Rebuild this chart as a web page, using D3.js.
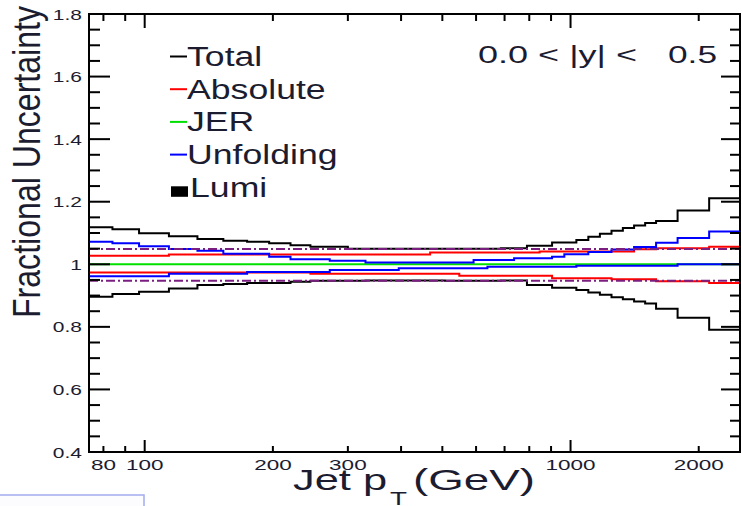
<!DOCTYPE html>
<html>
<head>
<meta charset="utf-8">
<script src="https://cdn.jsdelivr.net/npm/d3@7"></script>
<style>
body { margin: 0; background: #fff; }
svg { display: block; font-family: "Liberation Sans", Arial, sans-serif; }
</style>
</head>
<body>
<div id="chart"></div>
<script>
// jet pT bin edges (GeV)
var binEdges = [74, 84, 97, 114, 133, 153, 174, 196, 220, 245, 272, 300, 330, 362, 395, 430, 468, 507,
  548, 592, 638, 686, 737, 790, 846, 905, 967, 1032, 1101, 1172, 1248, 1327, 1410, 1497, 1588, 1784, 2116, 2500];

// one value per bin
var totalUp = [1.118, 1.112, 1.099, 1.090, 1.081, 1.075, 1.072, 1.067, 1.061, 1.056, 1.056, 1.050, 1.050,
  1.050, 1.050, 1.050, 1.050, 1.050, 1.050, 1.050, 1.050, 1.051, 1.051, 1.059, 1.059, 1.070, 1.070, 1.078,
  1.088, 1.098, 1.107, 1.116, 1.124, 1.132, 1.138, 1.172, 1.211];
var totalDown = [0.896, 0.905, 0.912, 0.923, 0.934, 0.937, 0.940, 0.940, 0.944, 0.947, 0.947, 0.947, 0.948,
  0.948, 0.948, 0.948, 0.948, 0.947, 0.947, 0.947, 0.947, 0.948, 0.948, 0.934, 0.934, 0.925, 0.925, 0.918,
  0.910, 0.903, 0.895, 0.888, 0.881, 0.875, 0.858, 0.829, 0.791];
var absUp = [1.027, 1.027, 1.027, 1.031, 1.031, 1.031, 1.031, 1.031, 1.031, 1.031, 1.031, 1.031, 1.031,
  1.031, 1.031, 1.031, 1.038, 1.038, 1.038, 1.038, 1.038, 1.038, 1.038, 1.038, 1.041, 1.041, 1.041, 1.041,
  1.041, 1.041, 1.041, 1.041, 1.048, 1.048, 1.051, 1.051, 1.056];
var absDown = [0.974, 0.974, 0.974, 0.974, 0.974, 0.974, 0.974, 0.974, 0.974, 0.970, 0.970, 0.970, 0.970,
  0.970, 0.970, 0.970, 0.970, 0.970, 0.963, 0.963, 0.963, 0.963, 0.963, 0.963, 0.963, 0.955, 0.955, 0.955,
  0.955, 0.955, 0.952, 0.952, 0.952, 0.952, 0.946, 0.946, 0.940];
var jer = [1.000, 1.000, 1.000, 1.000, 1.000, 1.000, 1.000, 1.000, 1.000, 1.000, 1.000, 1.000, 1.000,
  1.000, 1.000, 1.000, 1.000, 1.000, 1.000, 1.000, 1.000, 1.000, 1.000, 1.000, 1.000, 1.000, 1.000, 1.000,
  1.000, 1.000, 1.000, 1.000, 1.000, 1.000, 1.000, 1.000, 1.000];
var unfUp = [1.072, 1.067, 1.058, 1.049, 1.043, 1.034, 1.034, 1.024, 1.016, 1.016, 1.011, 1.011, 1.006,
  1.006, 1.006, 1.006, 1.006, 1.006, 1.006, 1.014, 1.014, 1.014, 1.019, 1.019, 1.019, 1.024, 1.032, 1.032,
  1.039, 1.039, 1.047, 1.047, 1.055, 1.055, 1.069, 1.084, 1.105];
var unfDown = [0.962, 0.962, 0.962, 0.970, 0.970, 0.970, 0.975, 0.975, 0.975, 0.975, 0.982, 0.982, 0.982,
  0.982, 0.987, 0.987, 0.987, 0.987, 0.987, 0.987, 0.992, 0.992, 0.992, 0.992, 0.992, 0.992, 0.992, 0.995,
  0.995, 0.995, 0.995, 0.995, 0.995, 0.995, 0.995, 1.000, 1.000];
var lumi = [0.947, 1.049];

var xDomain = [74, 2500];
var yDomain = [0.4, 1.8];
var xMajorTicks = [100, 1000];
var xMinorTicks = [80, 90, 200, 300, 400, 500, 600, 700, 800, 900, 2000];
var xTickLabels = [80, 100, 200, 300, 1000, 2000];
var yMajorTicks = [0.4, 0.6, 0.8, 1.0, 1.2, 1.4, 1.6, 1.8];
var yTickLabels = ["0.4", "0.6", "0.8", "1", "1.2", "1.4", "1.6", "1.8"];
var legendNames = ["Total", "Absolute", "JER", "Unfolding", "Lumi"];
var legendColors = ["#000", "#ff0000", "#00e000", "#0000ff", "#000"];

var pLeft = 89, pRight = 740, pTop = 14, pBottom = 452;

var svg = d3.select("#chart")
  .append("svg")
  .attr("width", 742).attr("height", 506);

var x = d3.scaleLog().domain(xDomain).range([pLeft, pRight]);
var y = d3.scaleLinear().domain(yDomain).range([pBottom, pTop]);

svg.append("clipPath").attr("id", "plotclip")
  .append("rect")
  .attr("x", pLeft).attr("y", pTop)
  .attr("width", pRight - pLeft).attr("height", pBottom - pTop);

var plot = svg.append("g").attr("clip-path", "url(#plotclip)");

// step histogram from per-bin values
var step = d3.line()
  .x(function(d) { return x(d[0]); })
  .y(function(d) { return y(d[1]); })
  .curve(d3.curveStepAfter);

function hist(vals, color) {
  var pts = binEdges.map(function(e, i) { return [e, vals[Math.min(i, vals.length - 1)]]; });
  plot.append("path")
    .attr("d", step(pts))
    .attr("fill", "none")
    .attr("stroke", color)
    .attr("stroke-width", 2);
}

hist(totalUp, "#000");
hist(totalDown, "#000");
hist(absUp, "#ff0000");
hist(absDown, "#ff0000");
hist(jer, "#00e000");
hist(unfUp, "#0000ff");
hist(unfDown, "#0000ff");

//lumi band edges
plot.selectAll(".lumi")
  .data(lumi)
  .enter().append("line")
  .attr("x1", x(xDomain[0])).attr("x2", x(xDomain[1]))
  .attr("y1", function(d) { return y(d); })
  .attr("y2", function(d) { return y(d); })
  .attr("stroke", "#7a1f80")
  .attr("stroke-width", 2)
  .attr("stroke-dasharray", "9,3,2,3");

//frame
svg.append("rect")
  .attr("x", pLeft).attr("y", pTop)
  .attr("width", pRight - pLeft).attr("height", pBottom - pTop)
  .attr("fill", "none")
  .attr("stroke", "#000")
  .attr("stroke-width", 2);

// y ticks, both sides
var yMinor = d3.range(8, 37).map(function(i) { return i * 0.05; })
  .filter(function(v) { return Math.abs(v * 5 - Math.round(v * 5)) > 0.01; });
var ticks = svg.append("g").attr("stroke", "#000").attr("stroke-width", 2);
yMajorTicks.forEach(function(v) {
  ticks.append("line").attr("x1", pLeft).attr("x2", pLeft + 21).attr("y1", y(v)).attr("y2", y(v));
  ticks.append("line").attr("x1", pRight).attr("x2", pRight - 19).attr("y1", y(v)).attr("y2", y(v));
});
yMinor.forEach(function(v) {
  ticks.append("line").attr("x1", pLeft).attr("x2", pLeft + 11).attr("y1", y(v)).attr("y2", y(v));
  ticks.append("line").attr("x1", pRight).attr("x2", pRight - 10).attr("y1", y(v)).attr("y2", y(v));
});
// x ticks, bottom and top
xMajorTicks.forEach(function(v) {
  ticks.append("line").attr("x1", x(v)).attr("x2", x(v)).attr("y1", pBottom).attr("y2", pBottom - 12);
  ticks.append("line").attr("x1", x(v)).attr("x2", x(v)).attr("y1", pTop).attr("y2", pTop + 14);
});
xMinorTicks.forEach(function(v) {
  ticks.append("line").attr("x1", x(v)).attr("x2", x(v)).attr("y1", pBottom).attr("y2", pBottom - 6);
  ticks.append("line").attr("x1", x(v)).attr("x2", x(v)).attr("y1", pTop).attr("y2", pTop + 7);
});

var txt = "#1c1c30";

// tick labels
svg.selectAll(".ylab")
  .data(yMajorTicks)
  .enter().append("text")
  .attr("transform", function(d) { return "translate(82," + (y(d) + 5.5) + ") scale(1.4,1)"; })
  .attr("text-anchor", "end")
  .attr("font-size", 15)
  .attr("fill", txt)
  .text(function(d, i) { return yTickLabels[i]; });

svg.selectAll(".xlab")
  .data(xTickLabels)
  .enter().append("text")
  .attr("transform", function(d) { return "translate(" + x(d) + ",470) scale(1.5,1)"; })
  .attr("text-anchor", "middle")
  .attr("font-size", 15)
  .attr("fill", txt)
  .text(function(d) { return d; });

// axis titles
svg.append("text")
  .attr("transform", "translate(39.5,318) rotate(-90) scale(1,1.2)")
  .attr("font-size", 32)
  .attr("textLength", 312)
  .attr("lengthAdjust", "spacingAndGlyphs")
  .attr("fill", txt)
  .text("Fractional Uncertainty");

svg.append("text").attr("x", 293).attr("y", 490)
  .attr("font-size", 30).attr("textLength", 94).attr("lengthAdjust", "spacingAndGlyphs")
  .attr("fill", txt).text("Jet p");
svg.append("text").attr("x", 390).attr("y", 505)
  .attr("font-size", 19).attr("textLength", 17).attr("lengthAdjust", "spacingAndGlyphs")
  .attr("fill", txt).text("T");
svg.append("text").attr("x", 413).attr("y", 490)
  .attr("font-size", 30).attr("textLength", 122).attr("lengthAdjust", "spacingAndGlyphs")
  .attr("fill", txt).text("(GeV)");

// rapidity range
svg.append("text").attr("x", 478).attr("y", 63)
  .attr("font-size", 23).attr("textLength", 159).attr("lengthAdjust", "spacingAndGlyphs")
  .attr("fill", txt).text("0.0 < |y| <");
svg.append("text").attr("x", 668).attr("y", 63)
  .attr("font-size", 23).attr("textLength", 49).attr("lengthAdjust", "spacingAndGlyphs")
  .attr("fill", txt).text("0.5");

// legend
var leg = svg.append("g");
legendNames.forEach(function(name, i) {
  var by = 66 + i * 32.7;
  if (name === "Lumi") {
    leg.append("rect").attr("x", 171).attr("y", by - 10.5).attr("width", 17).attr("height", 10.5)
      .attr("fill", "#000");
  } else {
    leg.append("line").attr("x1", 170).attr("x2", 187).attr("y1", by - 9.5).attr("y2", by - 9.5)
      .attr("stroke", legendColors[i]).attr("stroke-width", 2);
  }
  leg.append("text")
    .attr("transform", "translate(" + (name === "Lumi" ? 190 : 187) + "," + by + ") scale(1.32,1)")
    .attr("font-size", 27)
    .attr("fill", txt)
    .text(name);
});

// stray box from the screenshot, bottom left
svg.append("rect")
  .attr("x", -1).attr("y", 495)
  .attr("width", 145).attr("height", 20)
  .attr("fill", "#fcfcff")
  .attr("stroke", "#a4aaf0")
  .attr("stroke-width", 1.5);
</script>
</body>
</html>
